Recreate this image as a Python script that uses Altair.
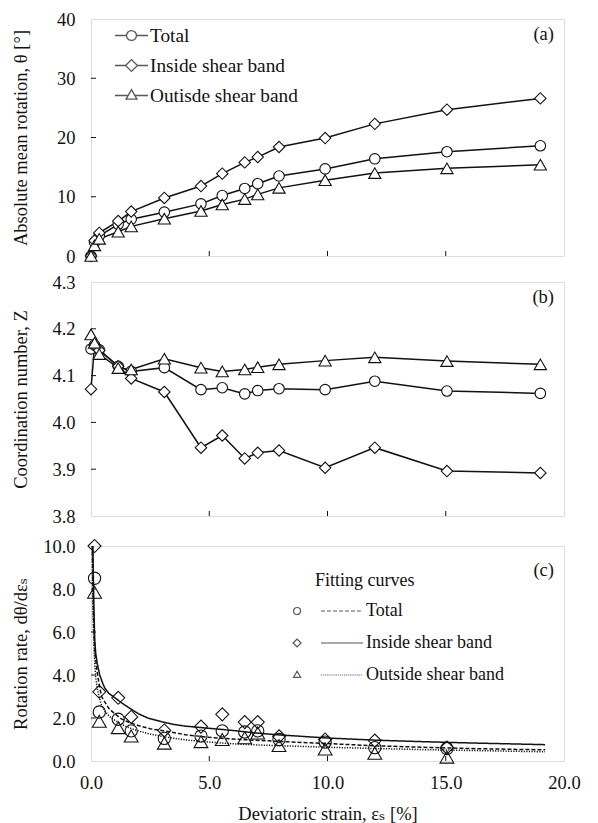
import altair as alt
import pandas as pd

# ---------------- data ----------------
strain = [0.0, 0.15, 0.35, 1.15, 1.7, 3.1, 4.65, 5.55, 6.5, 7.05, 7.95, 9.9, 12.0, 15.05, 19.0]
series_a = ["Total", "Inside shear band", "Outisde shear band"]
series_c = ["Total", "Inside shear band", "Outside shear band"]

theta_total = [0.0, 2.3, 3.4, 5.35, 6.2, 7.4, 8.8, 10.2, 11.4, 12.2, 13.5, 14.7, 16.4, 17.6, 18.6]
theta_inside = [0.0, 2.6, 3.9, 5.9, 7.5, 9.8, 11.8, 13.9, 15.8, 16.7, 18.4, 19.9, 22.3, 24.7, 26.6]
theta_outside = [0.0, 1.8, 2.9, 4.1, 5.0, 6.3, 7.6, 8.7, 9.6, 10.4, 11.5, 12.8, 14.0, 14.8, 15.4]

z_total = [4.157, 4.165, 4.155, 4.12, 4.109, 4.117, 4.07, 4.074, 4.061, 4.068, 4.072, 4.07, 4.088, 4.067, 4.062]
z_inside = [4.071, 4.165, 4.154, 4.12, 4.094, 4.065, 3.946, 3.972, 3.923, 3.935, 3.94, 3.903, 3.946, 3.896, 3.892]
z_outside = [4.188, 4.17, 4.146, 4.116, 4.113, 4.136, 4.117, 4.109, 4.113, 4.118, 4.124, 4.132, 4.139, 4.131, 4.124]

rate_strain = [0.15, 0.35, 1.15, 1.7, 3.1, 4.65, 5.55, 6.5, 7.05, 7.95, 9.9, 12.0, 15.05]
rate_total = [8.5, 2.28, 1.94, 1.4, 1.05, 1.16, 1.4, 1.35, 1.4, 1.0, 0.88, 0.62, 0.58]
rate_inside = [10.0, 3.22, 2.94, 2.05, 1.42, 1.6, 2.17, 1.81, 1.81, 1.15, 1.0, 0.95, 0.62]
rate_outside = [7.85, 1.85, 1.55, 1.16, 0.83, 0.9, 1.0, 1.08, 1.3, 0.72, 0.56, 0.36, 0.18]

# fitting curves
fit_total_x = [0.06, 0.08, 0.1, 0.13, 0.17, 0.22, 0.28, 0.37, 0.45, 0.58, 0.75, 1.0, 1.3, 1.6, 2.0, 2.5, 3.2, 4.0, 5.0, 6.0, 7.0, 8.0, 10.0, 12.0, 14.0, 16.0, 18.0, 19.2]
fit_total_y = [10.0, 8.5, 7.0, 5.9, 5.0, 4.5, 4.0, 3.4, 3.0, 2.75, 2.45, 2.2, 1.95, 1.8, 1.65, 1.5, 1.38, 1.22, 1.1, 1.02, 0.96, 0.91, 0.81, 0.71, 0.64, 0.58, 0.54, 0.52]
fit_inside_x = [0.08, 0.1, 0.13, 0.16, 0.2, 0.27, 0.37, 0.5, 0.58, 0.75, 1.0, 1.3, 1.6, 2.0, 2.4, 3.0, 3.5, 4.0, 5.0, 6.0, 7.0, 8.0, 10.0, 12.0, 14.0, 16.0, 18.0, 19.2]
fit_inside_y = [10.0, 8.5, 6.8, 5.6, 5.0, 4.5, 4.0, 3.6, 3.4, 3.15, 2.95, 2.7, 2.48, 2.2, 2.0, 1.82, 1.7, 1.62, 1.52, 1.42, 1.3, 1.21, 1.07, 0.97, 0.9, 0.84, 0.79, 0.76]
fit_outside_x = [0.05, 0.07, 0.09, 0.12, 0.16, 0.2, 0.26, 0.34, 0.44, 0.6, 0.8, 1.0, 1.3, 1.6, 2.0, 2.5, 3.3, 4.0, 5.0, 6.0, 7.0, 8.0, 10.0, 12.0, 14.0, 16.0, 18.0, 19.2]
fit_outside_y = [10.0, 8.0, 6.6, 5.4, 4.5, 3.9, 3.4, 3.0, 2.6, 2.3, 2.05, 1.9, 1.7, 1.55, 1.4, 1.25, 1.09, 0.98, 0.88, 0.8, 0.75, 0.71, 0.64, 0.58, 0.53, 0.49, 0.45, 0.43]

x_ticks = [5, 10, 15]
x_labels_c = [0, 5, 10, 15, 20]
y_ticks_a = [0, 10, 20, 30, 40]
y_ticks_b = [3.8, 3.9, 4.0, 4.1, 4.2, 4.3]
y_ticks_c = [0, 2, 4, 6, 8, 10]

# ---------------- styling ----------------
FONT = "Liberation Serif, Tinos, Times New Roman, DejaVu Serif, serif"
FS = 18.5
W = 473
HA, HB, HC = 237, 234, 215
INK = "#111111"

xscale = alt.Scale(domain=[0, 20], nice=False, zero=False)


def long(xs, cols, names):
    rows = []
    for name, vals in zip(names, cols):
        for x, v in zip(xs, vals):
            rows.append({"strain": x, "value": v, "series": name})
    return pd.DataFrame(rows)


def y_axis(title, fmt, values, h):
    return alt.Axis(title=title, format=fmt, values=values, ticks=False, domain=False, grid=False,
                    labelPadding=16, labelFont=FONT, labelFontSize=FS, labelColor=INK,
                    labelFlush=False, labelOverlap=False,
                    titleFont=FONT, titleFontSize=FS, titleFontWeight="normal", titleColor=INK,
                    titleX=-61, titleY=h / 2, titleAngle=270, titleBaseline="bottom", titleAlign="center")


x_axis_hidden = alt.Axis(labels=False, ticks=False, domain=False, grid=False, title="")


def inner_ticks(yscale, yaxis, xaxis, yvals, h):
    inner_y = [v for v in yvals[1:-1]]
    xt = alt.Chart(pd.DataFrame({"strain": x_ticks})).mark_rule(color=INK, strokeWidth=1).encode(
        x=alt.X("strain:Q", scale=xscale, axis=xaxis), y=alt.value(h), y2=alt.value(h - 5))
    yt = alt.Chart(pd.DataFrame({"value": inner_y})).mark_rule(color=INK, strokeWidth=1).encode(
        y=alt.Y("value:Q", scale=yscale, axis=yaxis), x=alt.value(0), x2=alt.value(5))
    return [xt, yt]


def panel_tag(text, y):
    return alt.Chart(pd.DataFrame({"lab": [text]})).mark_text(
        align="right", baseline="middle", font=FONT, fontSize=FS, color=INK).encode(
        x=alt.value(W - 10), y=alt.value(y), text="lab:N")


shapes = ["circle", "diamond", "triangle-up"]
sizes = [110, 150, 125]

# legend glyphs for panel (a): a line with the marker in the middle
paths_a = [
    "M-1,0H-0.3M0.3,0H1M-0.3,0A0.3,0.3 0 1,1 0.3,0A0.3,0.3 0 1,1 -0.3,0Z",
    "M-1,0H-0.36M0.36,0H1M-0.36,0L0,-0.36L0.36,0L0,0.36Z",
    "M-1,0H-0.2M0.2,0H1M0,-0.36L0.33,0.22L-0.33,0.22Z",
]


def dashed(start, end, dash, gap):
    parts = []
    p = start
    while p < end - 1e-9:
        q = min(p + dash, end)
        parts.append(f"M{p:.3f},0H{q:.3f}")
        p = q + gap
    return "".join(parts)


# legend glyphs for panel (c): small marker, then a line sample
paths_c = [
    "M-2.069,0A0.167,0.167 0 1,1 -1.735,0A0.167,0.167 0 1,1 -2.069,0Z" + dashed(-0.762, 1.238, 0.19, 0.095),
    "M-2.09,0L-1.90,-0.19L-1.71,0L-1.90,0.19ZM-0.762,0H1.238",
    "M-1.90,-0.18L-1.733,0.11L-2.067,0.11Z" + dashed(-0.762, 1.238, 0.05, 0.05),
]


def line_panel(df, names, yscale, yaxis, yvals, h, tag, legend):
    base = alt.Chart(df)
    x_enc = alt.X("strain:Q", scale=xscale, axis=x_axis_hidden)
    y_enc = alt.Y("value:Q", scale=yscale, axis=yaxis)
    lines = base.mark_line(color=INK, strokeWidth=1.5).encode(
        x=x_enc, y=y_enc, detail="series:N", order="strain:Q")
    pts = base.mark_point(filled=True, fill="white", stroke=INK, strokeWidth=1.1, opacity=1).encode(
        x=x_enc, y=y_enc,
        shape=alt.Shape("series:N", scale=alt.Scale(domain=names, range=shapes), legend=None),
        size=alt.Size("series:N", scale=alt.Scale(domain=names, range=sizes), legend=None))
    layers = [lines, pts] + inner_ticks(yscale, yaxis, x_axis_hidden, yvals, h) + [panel_tag(tag, 15)]
    if legend:
        leg = base.transform_filter("false").mark_point(filled=False, color=INK, strokeWidth=1.3, size=1089).encode(
            shape=alt.Shape("series:N", scale=alt.Scale(domain=names, range=paths_a),
                            legend=alt.Legend(title=None, orient="none", legendX=23, legendY=-1,
                                              direction="vertical", padding=0,
                                              labelFont=FONT, labelFontSize=19.3, labelColor=INK,
                                              labelOffset=1, symbolSize=1089, symbolStrokeWidth=1.3,
                                              symbolStrokeColor=INK, symbolFillColor="white",
                                              rowPadding=2)))
        layers.append(leg)
    return alt.layer(*layers).resolve_scale(shape="independent", size="independent").properties(width=W, height=h)


# ---- panel (a)
df_a = long(strain, [theta_total, theta_inside, theta_outside], series_a)
ys_a = alt.Scale(domain=[0, 40], nice=False, zero=False)
pa = line_panel(df_a, series_a, ys_a, y_axis("Absolute mean rotation, θ [°]", "d", y_ticks_a, HA),
                y_ticks_a, HA, "(a)", True)

# ---- panel (b)
df_b = long(strain, [z_total, z_inside, z_outside], series_a)
ys_b = alt.Scale(domain=[3.8, 4.3], nice=False, zero=False)
pb = line_panel(df_b, series_a, ys_b, y_axis("Coordination number, Z", ".1f", y_ticks_b, HB),
                y_ticks_b, HB, "(b)", False)

# ---- panel (c)
ys_c = alt.Scale(domain=[0, 10], nice=False, zero=False, clamp=True)
df_c_pts = long(rate_strain, [rate_total, rate_inside, rate_outside], series_c)
fit_rows = []
for name, xs, ys in zip(series_c, [fit_total_x, fit_inside_x, fit_outside_x], [fit_total_y, fit_inside_y, fit_outside_y]):
    for x, v in zip(xs, ys):
        fit_rows.append({"strain": x, "value": v, "series": name})
df_c_fit = pd.DataFrame(fit_rows)

yax_c = y_axis("Rotation rate, dθ/dεₛ", ".1f", y_ticks_c, HC)
x_axis_c = alt.Axis(values=x_labels_c, format=".1f", ticks=False, domain=False, grid=False,
                    labelPadding=12, labelFont=FONT, labelFontSize=FS, labelColor=INK,
                    labelFlush=False, labelOverlap=False,
                    title="Deviatoric strain, εₛ [%]", titleFont=FONT, titleFontSize=FS,
                    titleFontWeight="normal", titleColor=INK, titlePadding=13)
xc = alt.X("strain:Q", scale=xscale, axis=x_axis_c)
yc = alt.Y("value:Q", scale=ys_c, axis=yax_c)

fits = alt.Chart(df_c_fit).mark_line(color=INK, strokeWidth=1.5).encode(
    x=xc, y=yc, detail="series:N", order="strain:Q",
    strokeDash=alt.StrokeDash("series:N", scale=alt.Scale(domain=series_c, range=[[4, 2], [1, 0], [1.2, 1.4]]),
                              legend=None))
pts_c = alt.Chart(df_c_pts).mark_point(filled=False, color=INK, strokeWidth=1.1, opacity=1).encode(
    x=xc, y=yc,
    shape=alt.Shape("series:N", scale=alt.Scale(domain=series_c, range=shapes), legend=None),
    size=alt.Size("series:N", scale=alt.Scale(domain=series_c, range=[150, 190, 170]), legend=None))
leg_c = alt.Chart(df_c_pts).transform_filter("false").mark_point(filled=False, color=INK, strokeWidth=1.2, size=1764).encode(
    shape=alt.Shape("series:N", scale=alt.Scale(domain=series_c, range=paths_c),
                    legend=alt.Legend(title="Fitting curves", orient="none", legendX=224, legendY=26,
                                      direction="vertical", padding=0,
                                      titleFont=FONT, titleFontSize=18, titleFontWeight="normal",
                                      titleColor=INK, titleAnchor="start", titleAlign="left", titlePadding=-1,
                                      labelFont=FONT, labelFontSize=18, labelColor=INK,
                                      labelOffset=7, symbolSize=1764, symbolStrokeWidth=1.2,
                                      symbolStrokeColor=INK, symbolFillColor="white",
                                      rowPadding=1)))
pc = alt.layer(fits, pts_c, *inner_ticks(ys_c, yax_c, x_axis_c, y_ticks_c, HC), panel_tag("(c)", 24),
               leg_c).resolve_scale(shape="independent", size="independent").properties(width=W, height=HC)

top = alt.vconcat(pa, pb, spacing=6)
chart = alt.vconcat(top, pc, spacing=10).properties(
    padding={"left": 2, "top": 1, "right": 5, "bottom": 2}
).configure_view(stroke="#333333", strokeWidth=1.2).configure(font=FONT)

chart.save("out.html", embed_options={"renderer": "svg", "actions": False})
